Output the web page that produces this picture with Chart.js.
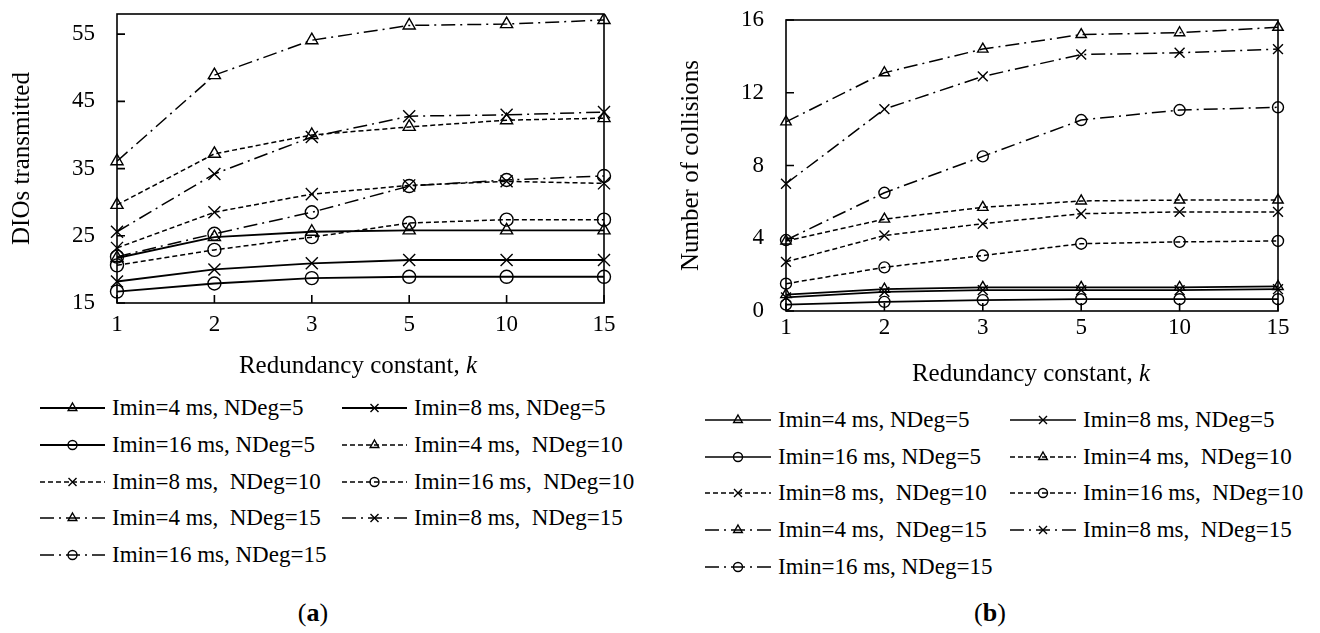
<!DOCTYPE html>
<html>
<head>
<meta charset="utf-8">
<script src="https://cdn.jsdelivr.net/npm/chart.js@4/dist/chart.umd.min.js"></script>
<style>
  body { margin: 0; background: #fff; width: 1320px; height: 633px; position: relative; overflow: hidden;
         font-family: "Liberation Serif", "Times New Roman", serif; color: #000; }
  canvas { position: absolute; }
  .xtitle, .cap { position: absolute; transform: translate(-50%, -50%); white-space: nowrap; }
  .xtitle { font-size: 25px; }
  .cap { font-size: 26px; }
  .item { position: absolute; display: flex; align-items: center; height: 28px; white-space: pre; font-size: 23px; }
  .item canvas { position: static; margin-right: 7px; }
</style>
</head>
<body>
<canvas id="chartA" width="650" height="390" style="left:0;top:0"></canvas>
<canvas id="chartB" width="660" height="395" style="left:660px;top:0"></canvas>
<div class="xtitle" style="left:358px;top:365px">Redundancy constant, <i>k</i></div>
<div class="xtitle" style="left:1031px;top:373px">Redundancy constant, <i>k</i></div>
<div id="legendA"></div>
<div id="legendB"></div>
<div class="cap" style="left:313px;top:613px">(<b>a</b>)</div>
<div class="cap" style="left:990px;top:613px">(<b>b</b>)</div>

<script>
const kLabels = ['1', '2', '3', '5', '10', '15'];

const seriesLabels = [
    'Imin=4 ms, NDeg=5', 'Imin=8 ms, NDeg=5', 'Imin=16 ms, NDeg=5',
    'Imin=4 ms,  NDeg=10', 'Imin=8 ms,  NDeg=10', 'Imin=16 ms,  NDeg=10',
    'Imin=4 ms,  NDeg=15', 'Imin=8 ms,  NDeg=15', 'Imin=16 ms, NDeg=15'
];

// (a) DIOs transmitted
const dioI4N5 = [21.7, 24.8, 25.6, 25.8, 25.8, 25.8];
const dioI8N5 = [18.2, 20.0, 20.9, 21.4, 21.4, 21.4];
const dioI16N5 = [16.7, 17.9, 18.7, 18.9, 18.9, 18.9];
const dioI4N10 = [29.6, 37.2, 40.0, 41.2, 42.2, 42.5];
const dioI8N10 = [23.2, 28.5, 31.2, 32.5, 33.1, 32.8];
const dioI16N10 = [20.6, 22.9, 24.8, 26.9, 27.4, 27.4];
const dioI4N15 = [36.1, 48.9, 54.1, 56.3, 56.5, 57.1];
const dioI8N15 = [25.6, 34.2, 39.7, 42.8, 43.0, 43.4];
const dioI16N15 = [21.9, 25.3, 28.5, 32.4, 33.3, 33.9];
const dioTicks = [15, 25, 35, 45, 55];

// (b) Number of collisions
const colI4N5 = [0.9, 1.2, 1.3, 1.3, 1.3, 1.35];
const colI8N5 = [0.75, 1.05, 1.15, 1.15, 1.15, 1.2];
const colI16N5 = [0.35, 0.5, 0.6, 0.65, 0.65, 0.65];
const colI4N10 = [3.85, 5.05, 5.7, 6.05, 6.1, 6.1];
const colI8N10 = [2.7, 4.15, 4.8, 5.35, 5.45, 5.45];
const colI16N10 = [1.5, 2.4, 3.05, 3.7, 3.8, 3.85];
const colI4N15 = [10.4, 13.1, 14.4, 15.2, 15.3, 15.6];
const colI8N15 = [7.0, 11.1, 12.9, 14.1, 14.2, 14.4];
const colI16N15 = [3.9, 6.5, 8.5, 10.5, 11.05, 11.2];
const colTicks = [0, 4, 8, 12, 16];

const MARKERS = ['triangle', 'crossRot', 'circle'];
const DASHES = [[], [5, 3], [14, 5, 2, 5]];

function markerFor(i) { return MARKERS[i % 3]; }
function dashFor(i) { return DASHES[Math.floor(i / 3)]; }

const framePlugin = {
    id: 'frame',
    beforeDatasetsDraw(chart) {
        const { ctx, chartArea: a, scales: { x, y } } = chart;
        ctx.save();
        ctx.strokeStyle = '#000';
        ctx.lineWidth = 1.6;
        ctx.setLineDash([]);
        ctx.strokeRect(a.left, a.top, a.right - a.left, a.bottom - a.top);
        ctx.beginPath();
        x.ticks.forEach((t, i) => {
            const px = x.getPixelForTick(i);
            ctx.moveTo(px, a.bottom);
            ctx.lineTo(px, a.bottom - 8);
        });
        y.ticks.forEach(t => {
            const py = y.getPixelForValue(t.value);
            ctx.moveTo(a.left, py);
            ctx.lineTo(a.left + 8, py);
        });
        ctx.stroke();
        ctx.restore();
    }
};

function makeChart(id, series, opt) {
    const sizes = opt.markerSizes;
    return new Chart(document.getElementById(id), {
        type: 'line',
        data: {
            labels: kLabels,
            datasets: series.map((values, i) => ({
                label: seriesLabels[i],
                data: values,
                borderColor: '#000',
                borderWidth: i < 3 ? opt.solidWidth : 1.5,
                borderDash: dashFor(i),
                pointStyle: markerFor(i),
                pointRadius: sizes[i % 3],
                pointBorderColor: '#000',
                pointBackgroundColor: 'rgba(0,0,0,0)',
                pointBorderWidth: 1.4,
                tension: 0,
                fill: false
            }))
        },
        options: {
            responsive: false,
            animation: false,
            layout: { padding: { left: 0, top: opt.top, right: opt.right, bottom: 0 } },
            plugins: { legend: { display: false }, tooltip: { enabled: false } },
            scales: {
                x: {
                    type: 'category',
                    offset: false,
                    grid: { display: false, drawTicks: false },
                    border: { display: false },
                    ticks: {
                        color: '#000',
                        autoSkip: false,
                        maxRotation: 0,
                        padding: opt.xPad,
                        font: { family: 'Liberation Serif', size: 23, lineHeight: 1.2 }
                    },
                    afterFit(s) {
                        s.height = opt.xHeight;
                        s.paddingLeft = 0;
                        s.paddingRight = 0;
                    }
                },
                y: {
                    min: opt.min,
                    max: opt.max,
                    grid: { display: false, drawTicks: false },
                    border: { display: false },
                    afterBuildTicks(s) { s.ticks = opt.ticks.map(v => ({ value: v })); },
                    ticks: {
                        color: '#000',
                        padding: 22,
                        font: { family: 'Liberation Serif', size: 23, lineHeight: 1.2 }
                    },
                    title: {
                        display: true,
                        text: opt.yTitle,
                        color: '#000',
                        padding: { top: opt.yTitlePad, bottom: 0 },
                        font: { family: 'Liberation Serif', size: 25, lineHeight: 1.2 }
                    },
                    afterFit(s) {
                        s.width = opt.yWidth;
                        s.paddingTop = 0;
                        s.paddingBottom = 0;
                    }
                }
            }
        },
        plugins: [framePlugin]
    });
}

makeChart('chartA',
    [dioI4N5, dioI8N5, dioI16N5, dioI4N10, dioI8N10, dioI16N10, dioI4N15, dioI8N15, dioI16N15],
    { min: 15, max: 58, ticks: dioTicks, yTitle: 'DIOs transmitted', top: 14, right: 46,
      yWidth: 117, xHeight: 87, xPad: 8, yTitlePad: 7, solidWidth: 1.9, markerSizes: [7, 8.5, 6.5] });

makeChart('chartB',
    [colI4N5, colI8N5, colI16N5, colI4N10, colI8N10, colI16N10, colI4N15, colI8N15, colI16N15],
    { min: 0, max: 16, ticks: colTicks, yTitle: 'Number of collisions', top: 20, right: 42,
      yWidth: 126, xHeight: 84, xPad: 3, yTitlePad: 16, solidWidth: 1.7, markerSizes: [6, 7, 5.5] });

function drawSample(cv, i, solidWidth) {
    const c = cv.getContext('2d');
    const w = cv.width, m = cv.height / 2, cx = w / 2;
    c.strokeStyle = '#000';
    c.lineWidth = i < 3 ? solidWidth : 1.4;
    c.setLineDash(dashFor(i));
    c.beginPath();
    c.moveTo(0, m);
    c.lineTo(w, m);
    c.stroke();
    c.setLineDash([]);
    c.lineWidth = 1.4;
    c.beginPath();
    const style = markerFor(i);
    if (style === 'triangle') {
        const r = 5;
        c.moveTo(cx, m - r);
        c.lineTo(cx + r * 0.866, m + r / 2);
        c.lineTo(cx - r * 0.866, m + r / 2);
        c.closePath();
    } else if (style === 'crossRot') {
        const r = 4;
        c.moveTo(cx - r, m - r); c.lineTo(cx + r, m + r);
        c.moveTo(cx + r, m - r); c.lineTo(cx - r, m + r);
    } else {
        c.arc(cx, m, 4.5, 0, Math.PI * 2);
    }
    c.stroke();
}

function buildLegend(id, colX, sampleW, rowY, solidWidth) {
    const host = document.getElementById(id);
    seriesLabels.forEach((label, i) => {
        const item = document.createElement('div');
        item.className = 'item';
        item.style.left = colX[i % 2] + 'px';
        item.style.top = (rowY[Math.floor(i / 2)] - 14) + 'px';
        const cv = document.createElement('canvas');
        cv.width = sampleW;
        cv.height = 20;
        drawSample(cv, i, solidWidth);
        const span = document.createElement('span');
        span.textContent = label;
        item.appendChild(cv);
        item.appendChild(span);
        host.appendChild(item);
    });
}

buildLegend('legendA', [40, 342], 65, [408, 445, 482, 518, 555], 2);
buildLegend('legendB', [705, 1010], 66, [420, 457, 493, 530, 567], 1.5);
</script>
</body>
</html>
